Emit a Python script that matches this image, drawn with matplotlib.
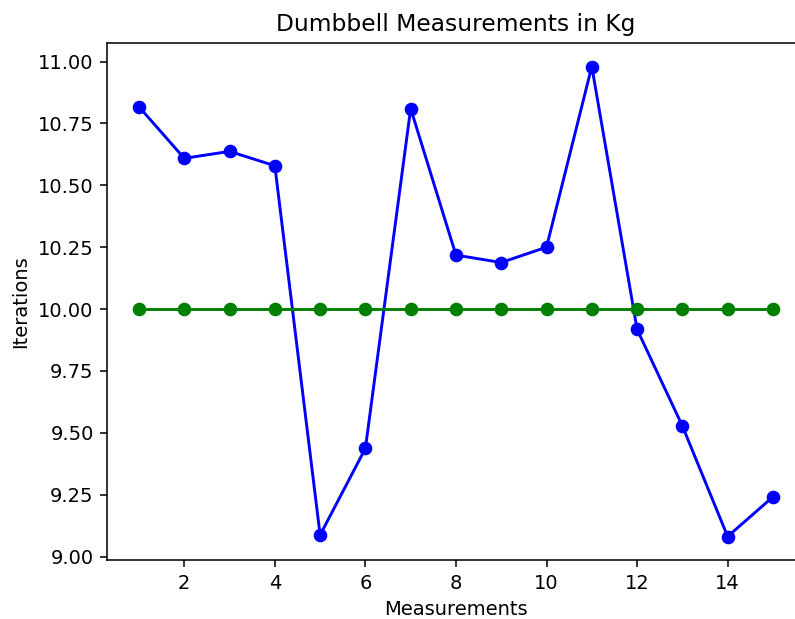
import matplotlib
matplotlib.use("Agg")
import matplotlib.pyplot as plt

measurements = list(range(1, 16))
weights = [10.817, 10.609, 10.637, 10.579, 9.087, 9.437, 10.81, 10.218, 10.188,
           10.25, 10.98, 9.918, 9.528, 9.081, 9.241]
target = [10.0] * 15

DPI = 140
fig = plt.figure(figsize=(795 / DPI, 619 / DPI), dpi=DPI)
ax = fig.add_axes([107.3 / 795, (619 - 560) / 619, (804.6 - 107.3) / 795, (560 - 43) / 619])
ax.plot(measurements, weights, 'bo-')
ax.plot(measurements, target, 'go-')
ax.set_title("Dumbbell Measurements in Kg")
ax.set_xlabel("Measurements")
ax.set_ylabel("Iterations")
fig.savefig("out.png", dpi=DPI)
